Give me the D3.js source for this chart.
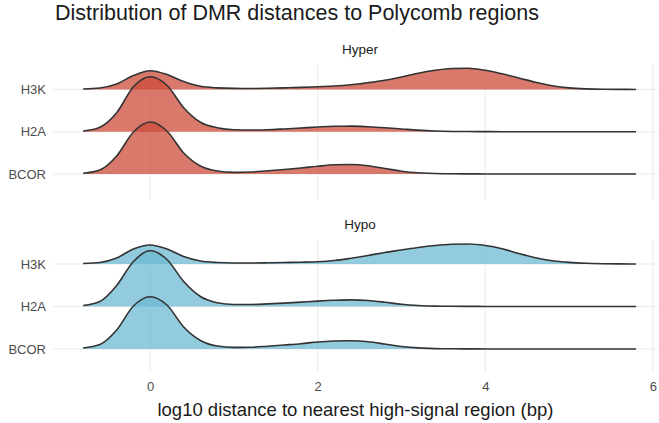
<!DOCTYPE html>
<html>
<head>
<meta charset="utf-8">
<script src="https://cdn.jsdelivr.net/npm/d3@7"></script>
<style>
  body { margin: 0; background: #fff; }
  svg { display: block; font-family: "Liberation Sans", Arial, sans-serif; }
</style>
</head>
<body>
<div id="chart"></div>
<script>
"use strict";

const groups = ["H3K", "H2A", "BCOR"];
const panels = ["Hyper", "Hypo"];
const xTicks = [0, 2, 4, 6];

const xGrid = [-0.8, -0.6, -0.4, -0.2, 0, 0.2, 0.4, 0.6, 0.8, 1.0, 1.2, 1.4, 1.6, 1.8,
  2.0, 2.2, 2.4, 2.6, 2.8, 3.0, 3.2, 3.4, 3.6, 3.8, 4.0, 4.2, 4.4, 4.6, 4.8,
  5.0, 5.2, 5.4, 5.6, 5.8];

const hyperH3K = [0.008, 0.025, 0.092, 0.233, 0.313, 0.250, 0.133, 0.053, 0.027, 0.018,
  0.017, 0.020, 0.027, 0.035, 0.047, 0.058, 0.080, 0.113, 0.153, 0.208, 0.272, 0.320,
  0.350, 0.353, 0.320, 0.262, 0.192, 0.120, 0.063, 0.027, 0.010, 0.003, 0.002, 0.001];
const hyperH2A = [0.013, 0.075, 0.317, 0.750, 0.917, 0.775, 0.400, 0.158, 0.067, 0.033,
  0.028, 0.033, 0.047, 0.063, 0.080, 0.092, 0.093, 0.083, 0.067, 0.047, 0.027, 0.013,
  0.005, 0.003, 0.002, 0.001, 0.001, 0.001, 0.001, 0.001, 0.001, 0.001, 0.001, 0.001];
const hyperBCOR = [0.013, 0.067, 0.300, 0.700, 0.867, 0.717, 0.350, 0.133, 0.050, 0.027,
  0.033, 0.053, 0.075, 0.100, 0.130, 0.153, 0.158, 0.138, 0.092, 0.047, 0.020, 0.008,
  0.003, 0.002, 0.001, 0.001, 0.001, 0.001, 0.001, 0.001, 0.001, 0.001, 0.001, 0.001];

const hypoH3K = [0.008, 0.025, 0.100, 0.250, 0.317, 0.250, 0.125, 0.050, 0.025, 0.017,
  0.017, 0.020, 0.025, 0.030, 0.038, 0.058, 0.097, 0.142, 0.192, 0.233, 0.275, 0.308,
  0.328, 0.333, 0.308, 0.255, 0.175, 0.105, 0.055, 0.027, 0.012, 0.005, 0.002, 0.001];
const hypoH2A = [0.017, 0.083, 0.350, 0.750, 0.928, 0.783, 0.417, 0.167, 0.063, 0.033,
  0.033, 0.043, 0.057, 0.073, 0.090, 0.103, 0.110, 0.100, 0.072, 0.038, 0.017, 0.007,
  0.003, 0.002, 0.001, 0.001, 0.001, 0.001, 0.001, 0.001, 0.001, 0.001, 0.001, 0.001];
const hypoBCOR = [0.017, 0.075, 0.317, 0.717, 0.872, 0.733, 0.367, 0.142, 0.050, 0.027,
  0.030, 0.047, 0.067, 0.088, 0.117, 0.133, 0.138, 0.120, 0.083, 0.043, 0.018, 0.007,
  0.003, 0.002, 0.001, 0.001, 0.001, 0.001, 0.001, 0.001, 0.001, 0.001, 0.001, 0.001];

const series = {
  Hyper: { H3K: hyperH3K, H2A: hyperH2A, BCOR: hyperBCOR },
  Hypo:  { H3K: hypoH3K,  H2A: hypoH2A,  BCOR: hypoBCOR }
};

/* ── Layout ── */
const W = 659, H = 423;
const colours = { Hyper: "#cc4c3a", Hypo: "#6ebad2" };

const panelBox = {
  Hyper: { top: 65,  bottom: 200, rows: [89.5, 174], strip: 54 },
  Hypo:  { top: 240, bottom: 372, rows: [264, 349],  strip: 229 }
};

const svg = d3.select("#chart").append("svg")
  .attr("width", W).attr("height", H);

const x = d3.scaleLinear().domain([-1.16, 6.05]).range([53, 657]);
const h = d3.scaleLinear().domain([0, 1]).range([0, 60]);

/* ── Title ── */
svg.append("text")
  .attr("x", 55).attr("y", 20)
  .attr("font-size", "21.5px")
  .attr("fill", "#1a1a1a")
  .text("Distribution of DMR distances to Polycomb regions");

panels.forEach(p => {
  const box = panelBox[p];
  const y = d3.scalePoint().domain(groups).range(box.rows);
  const g = svg.append("g");

  /* grid */
  g.selectAll(".vgrid").data(xTicks).join("line")
    .attr("x1", d => x(d)).attr("x2", d => x(d))
    .attr("y1", box.top).attr("y2", box.bottom)
    .attr("stroke", "#ebebeb").attr("stroke-width", 1.1);
  g.selectAll(".hgrid").data(groups).join("line")
    .attr("x1", x.range()[0]).attr("x2", x.range()[1])
    .attr("y1", d => y(d)).attr("y2", d => y(d))
    .attr("stroke", "#ebebeb").attr("stroke-width", 1.1);

  /* y labels */
  g.selectAll(".ylab").data(groups).join("text")
    .attr("x", 46).attr("y", d => y(d))
    .attr("dy", "0.36em")
    .attr("text-anchor", "end")
    .attr("font-size", "13px")
    .attr("fill", "#4d4d4d")
    .text(d => d);

  /* strip */
  g.append("text")
    .attr("x", 360).attr("y", box.strip)
    .attr("text-anchor", "middle")
    .attr("font-size", "13.5px")
    .attr("fill", "#1a1a1a")
    .text(p);

  /* ridges, top row first so lower rows overlap */
  groups.forEach(grp => {
    const vals = series[p][grp];
    const pts = xGrid.map((xv, i) => [xv, vals[i]]);
    const base = y(grp);
    const area = d3.area()
      .x(d => x(d[0])).y0(base).y1(d => base - h(d[1]))
      .curve(d3.curveMonotoneX);
    const line = d3.line()
      .x(d => x(d[0])).y(d => base - h(d[1]))
      .curve(d3.curveMonotoneX);
    g.append("path").datum(pts)
      .attr("d", area)
      .attr("fill", colours[p]).attr("fill-opacity", 0.75);
    g.append("path").datum(pts)
      .attr("d", line)
      .attr("fill", "none")
      .attr("stroke", "#333333").attr("stroke-width", 1.6);
  });
});

/* ── X axis ── */
svg.append("g")
  .attr("transform", `translate(0,${panelBox.Hypo.bottom})`)
  .call(d3.axisBottom(x).tickValues(xTicks).tickSize(0).tickFormat(d3.format("d")))
  .call(g => {
    g.select(".domain").remove();
    g.selectAll(".tick text")
      .attr("fill", "#4d4d4d")
      .attr("font-size", "13px")
      .attr("font-family", "Liberation Sans, Arial, sans-serif")
      .attr("dy", "1.25em");
  });

svg.append("text")
  .attr("x", x(2.45)).attr("y", 416)
  .attr("text-anchor", "middle")
  .attr("font-size", "18.5px")
  .attr("fill", "#1a1a1a")
  .text("log10 distance to nearest high-signal region (bp)");
</script>
</body>
</html>
